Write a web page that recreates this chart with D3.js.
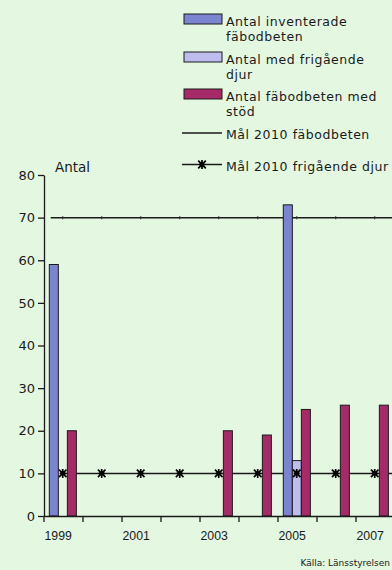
<!DOCTYPE html>
<html>
<head>
<meta charset="utf-8">
<script src="https://cdn.jsdelivr.net/npm/d3@7"></script>
<style>
  html, body { margin: 0; padding: 0; background: #e4f7e1; }
  svg { display: block; font-family: "DejaVu Sans", sans-serif; }
</style>
</head>
<body>
<svg id="chart" width="392" height="570"></svg>
<script>
// Fäbodbeten per år
const years = [1999, 2000, 2001, 2002, 2003, 2004, 2005, 2006, 2007];
const inventerade = [59, null, null, null, null, null, 73, null, null];
const frigaende = [null, null, null, null, null, null, 13, null, null];
const medStod = [20, null, null, null, 20, 19, 25, 26, 26];
const malFabodbeten = [70, 70, 70, 70, 70, 70, 70, 70, 70];
const malFrigaende = [10, 10, 10, 10, 10, 10, 10, 10, 10];
const yTicks = [0, 10, 20, 30, 40, 50, 60, 70, 80];
const xTickLabels = [1999, 2001, 2003, 2005, 2007];

const seriesNames = ["inventerade", "frigaende", "medStod"];
const seriesValues = { inventerade, frigaende, medStod };
const colors = { inventerade: "#7b84d1", frigaende: "#bdbdee", medStod: "#a72a68" };
const ink = "#1a1a1a";

const svg = d3.select("#chart");

const plot = { left: 44, right: 395, top: 175, bottom: 516 };

const x = d3.scaleBand().domain(years).range([plot.left, plot.right]).padding(0);
const inner = d3.scaleBand().domain(seriesNames)
  .range([x.bandwidth() * 0.136, x.bandwidth() * 0.83]).padding(0);
const y = d3.scaleLinear().domain([0, 80]).range([plot.bottom, plot.top]);
const cx = yr => x(yr) + x.bandwidth() / 2 - 0.8;

// Goal lines (drawn beneath the bars)
const linePath = d3.line().x(d => d[0]).y(d => y(d[1]));
const fabPts = years.map((yr, i) => [cx(yr), malFabodbeten[i]]);
fabPts.unshift([cx(years[0]) - 12, malFabodbeten[0]]);
fabPts.push([plot.right, malFabodbeten[malFabodbeten.length - 1]]);
svg.append("path").attr("d", linePath(fabPts))
  .attr("fill", "none").attr("stroke", ink).attr("stroke-width", 1.5);

const friPts = years.map((yr, i) => [cx(yr), malFrigaende[i]]);
friPts.push([plot.right, malFrigaende[malFrigaende.length - 1]]);
svg.append("path").attr("d", linePath(friPts))
  .attr("fill", "none").attr("stroke", ink).attr("stroke-width", 1.5);

// Bars
seriesNames.forEach(name => {
  const vals = seriesValues[name];
  svg.append("g").selectAll("rect")
    .data(years.map((yr, i) => ({ yr, v: vals[i] })).filter(d => d.v != null))
    .join("rect")
    .attr("x", d => x(d.yr) + inner(name))
    .attr("y", d => y(d.v))
    .attr("width", inner.bandwidth())
    .attr("height", d => y(0) - y(d.v))
    .attr("fill", colors[name])
    .attr("stroke", ink)
    .attr("stroke-width", 1);
});

// Markers on goal lines
svg.append("g").selectAll("line")
  .data(years.map((yr, i) => ({ yr, v: malFabodbeten[i] })))
  .join("line")
  .attr("x1", d => cx(d.yr)).attr("x2", d => cx(d.yr))
  .attr("y1", d => y(d.v) - 1.5).attr("y2", d => y(d.v) + 1.5)
  .attr("stroke", "#333").attr("stroke-width", 1.2);

const star = "M0,-4.5L0,4.5M-3.8,-3.8L3.8,3.8M-3.8,3.8L3.8,-3.8M-3,0L3,0";
svg.append("g").selectAll("path")
  .data(years.map((yr, i) => ({ yr, v: malFrigaende[i] })))
  .join("path")
  .attr("transform", d => `translate(${cx(d.yr)},${y(d.v)})`)
  .attr("d", star)
  .attr("fill", "none").attr("stroke", "#000").attr("stroke-width", 1.7);

// Y axis
const yAxis = d3.axisLeft(y).tickValues(yTicks).tickSize(6).tickPadding(3).tickSizeOuter(0);
const gy = svg.append("g").attr("transform", `translate(${plot.left},0)`).call(yAxis);
gy.select(".domain").attr("stroke", ink).attr("stroke-width", 1.3);
gy.selectAll(".tick line").attr("stroke", ink).attr("stroke-width", 1.3);
gy.selectAll(".tick text").attr("fill", ink).attr("font-size", 13)
  .attr("font-family", "'DejaVu Sans', sans-serif");

// X axis
const xAxis = d3.axisBottom(x).tickSize(0).tickFormat(() => "");
const gx = svg.append("g").attr("transform", `translate(0,${plot.bottom})`).call(xAxis);
gx.select(".domain").attr("stroke", ink).attr("stroke-width", 1.3);
gx.selectAll(".tick").remove();
gx.selectAll("line.sep")
  .data(years)
  .join("line").attr("class", "sep")
  .attr("x1", d => x(d)).attr("x2", d => x(d))
  .attr("y1", 0).attr("y2", 6)
  .attr("stroke", ink).attr("stroke-width", 1.3);
gx.selectAll("text.lbl")
  .data(xTickLabels)
  .join("text").attr("class", "lbl")
  .attr("x", d => cx(d) - 4.5)
  .attr("y", 24)
  .attr("text-anchor", "middle")
  .attr("fill", ink).attr("font-size", 12.3)
  .text(d => d);

// Axis title
svg.append("text").attr("x", 55).attr("y", 172)
  .attr("fill", ink).attr("font-size", 13.5).text("Antal");

// Legend
const legendItems = [
  { kind: "bar", key: "inventerade", lines: ["Antal inventerade", "fäbodbeten"] },
  { kind: "bar", key: "frigaende", lines: ["Antal med frigående", "djur"] },
  { kind: "bar", key: "medStod", lines: ["Antal fäbodbeten med", "stöd"] },
  { kind: "line", key: "malFab", lines: ["Mål 2010 fäbodbeten"] },
  { kind: "star", key: "malFri", lines: ["Mål 2010 frigående djur"] }
];
const legendBaselines = [26, 64, 101, 139, 170.5];
const lg = svg.append("g");
legendItems.forEach((item, i) => {
  const b = legendBaselines[i];
  if (item.kind === "bar") {
    lg.append("rect").attr("x", 184).attr("y", b - 12).attr("width", 38).attr("height", 10)
      .attr("fill", colors[item.key]).attr("stroke", ink).attr("stroke-width", 1);
  } else {
    lg.append("line").attr("x1", 182).attr("x2", 222).attr("y1", b - 6).attr("y2", b - 6)
      .attr("stroke", ink).attr("stroke-width", 1.5);
    if (item.kind === "star") {
      lg.append("path").attr("transform", `translate(202,${b - 6})`).attr("d", star)
        .attr("fill", "none").attr("stroke", "#000").attr("stroke-width", 1.7);
    }
  }
  // Wrapped label kept in one text element
  const t = lg.append("text").attr("x", 226).attr("y", b)
    .attr("fill", ink).attr("font-size", 12.5).attr("letter-spacing", 0.55);
  item.lines.forEach((line, j) => {
    t.append("tspan").attr("x", 226).attr("dy", j === 0 ? 0 : 14.9).text(line);
  });
});

// Source
svg.append("text").attr("x", 390).attr("y", 566).attr("text-anchor", "end")
  .attr("fill", ink).attr("font-size", 9).text("Källa: Länsstyrelsen");
</script>
</body>
</html>
